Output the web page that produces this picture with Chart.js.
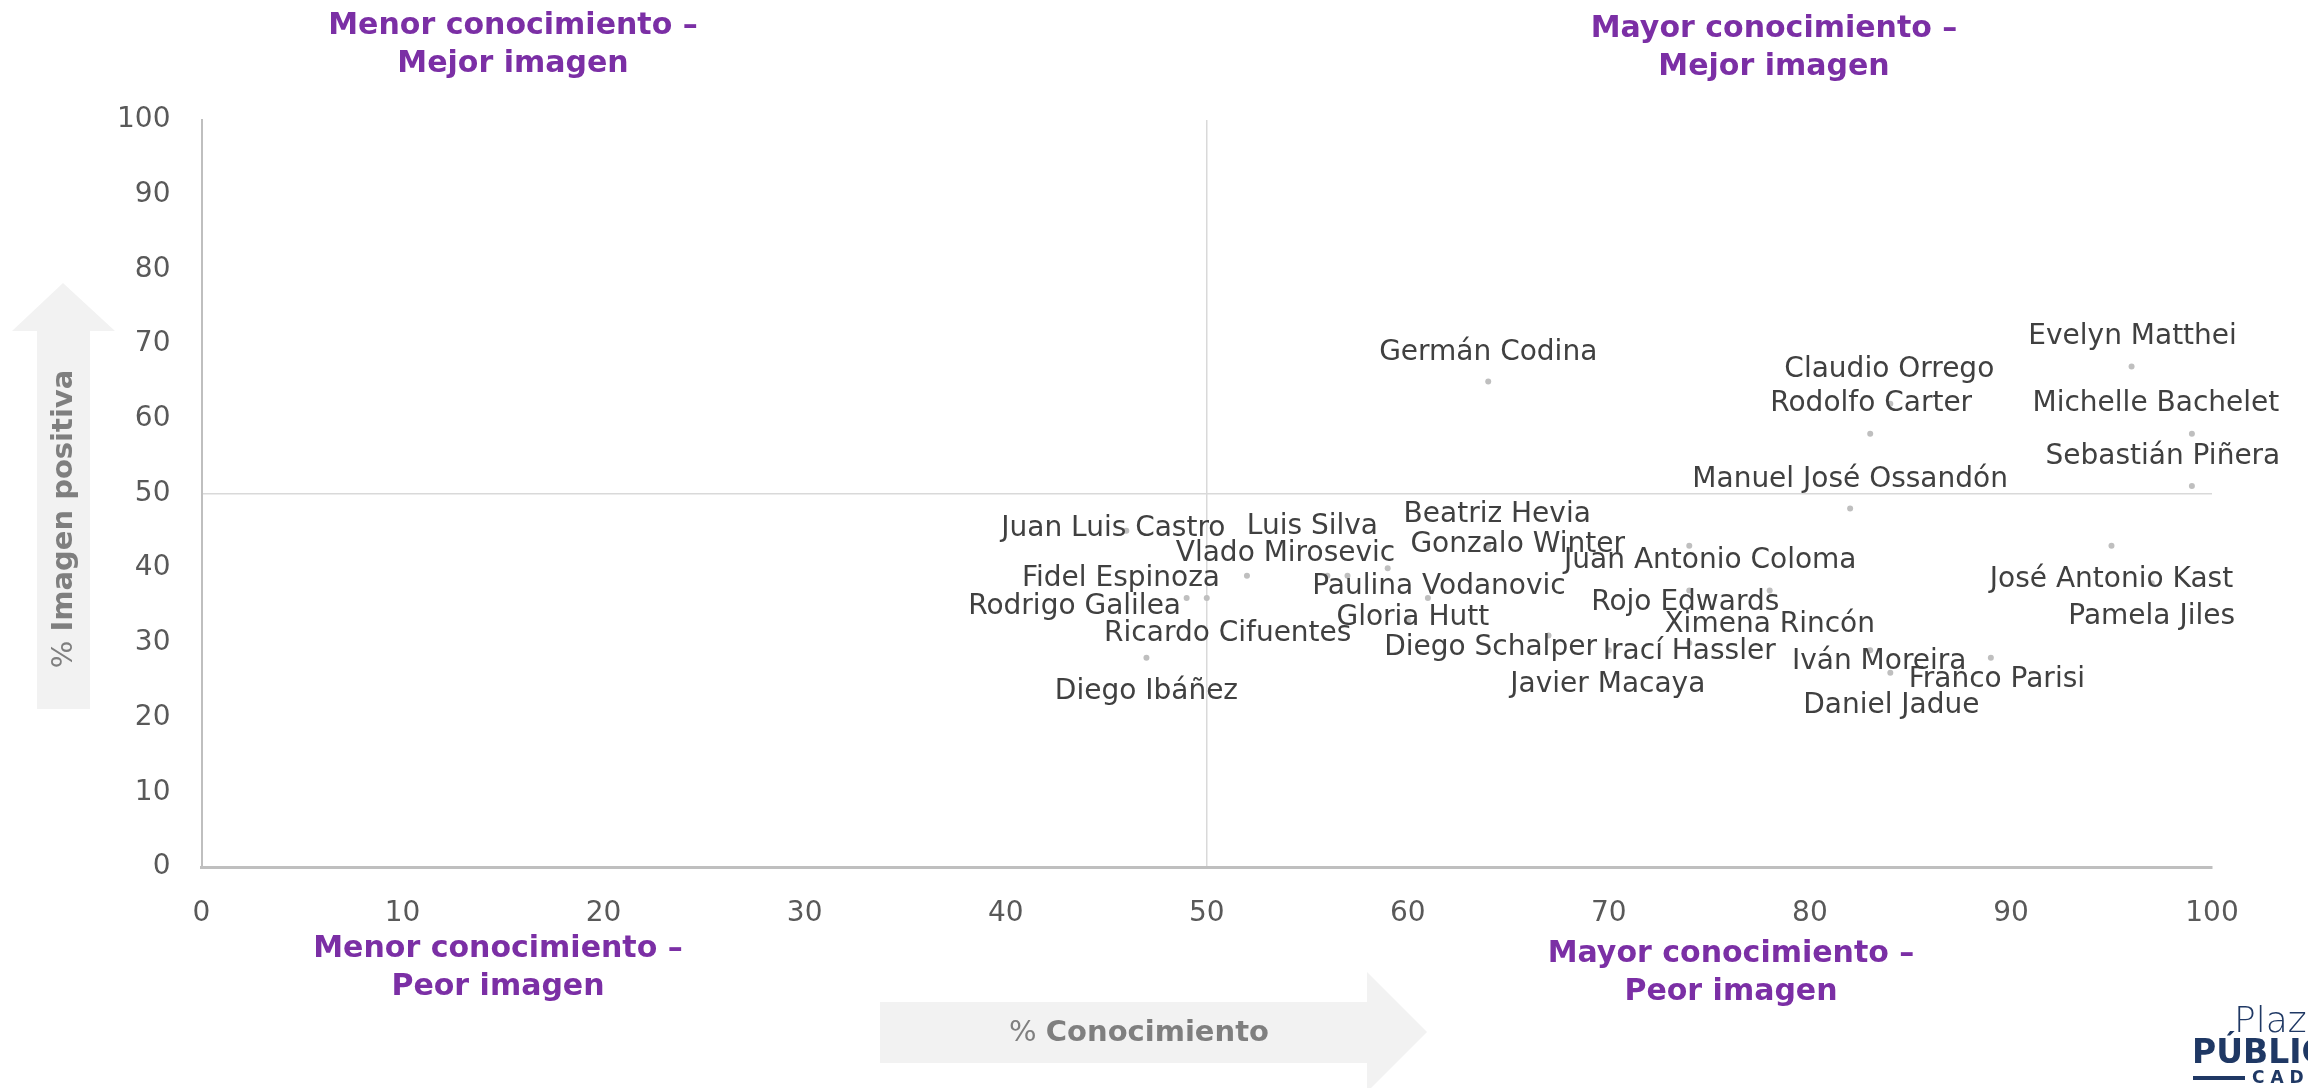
<!DOCTYPE html>
<html>
<head>
<meta charset="utf-8">
<script src="https://cdn.jsdelivr.net/npm/chart.js@4.4.1/dist/chart.umd.min.js"></script>
<style>
  html, body { margin: 0; padding: 0; background: #fff; }
  #wrap { width: 2308px; height: 1088px; position: relative; }
</style>
</head>
<body>
<div id="wrap"><canvas id="myChart"></canvas></div>
<script>
const ctx = document.getElementById('myChart').getContext('2d')

// people, % conocimiento (x) and % imagen positiva (y)
const names = [
    'Germán Codina', 'Evelyn Matthei', 'Claudio Orrego', 'Rodolfo Carter',
    'Michelle Bachelet', 'Sebastián Piñera', 'Manuel José Ossandón',
    'Beatriz Hevia', 'Gonzalo Winter', 'Juan Luis Castro', 'Luis Silva',
    'Vlado Mirosevic', 'Fidel Espinoza', 'Rodrigo Galilea', 'Ricardo Cifuentes',
    'Diego Ibáñez', 'Paulina Vodanovic', 'Gloria Hutt', 'Diego Schalper',
    'Javier Macaya', 'Irací Hassler', 'Rojo Edwards', 'Ximena Rincón',
    'Juan Antonio Coloma', 'Iván Moreira', 'Franco Parisi', 'Daniel Jadue',
    'José Antonio Kast', 'Pamela Jiles',
]
const conocimiento = [64, 96, 84, 83, 99, 99, 82, 64, 59, 46, 56, 57, 52, 49, 50, 47, 61, 60, 67, 70, 74, 74, 78, 74, 83, 89, 84, 95, 97]
const imagenPositiva = [65, 67, 62, 58, 58, 51, 48, 43, 40, 45, 39, 39, 39, 36, 36, 28, 36, 33, 31, 29, 30, 37, 37, 43, 29, 28, 26, 43, 38]

const tickValues = [0, 10, 20, 30, 40, 50, 60, 70, 80, 90, 100]

const quadrantTitles = [
    ['Menor conocimiento –', 'Mejor imagen'],
    ['Mayor conocimiento –', 'Mejor imagen'],
    ['Menor conocimiento –', 'Peor imagen'],
    ['Mayor conocimiento –', 'Peor imagen'],
]

// where each name sits relative to its dot (px)
const labelOffsets = [
    [0, -29], [1, -30], [-1, -34], [1, -30],
    [-36, -30], [-29, -29], [0, -29],
    [9, -31], [130, -23], [-13, -2], [-15, -49],
    [-62, -22], [-126, 3], [-112, 9], [21, 36],
    [0, 34], [11, -11], [5, -3], [-58, 12],
    [-1, 34], [0, 9], [-4, 12], [0, 34],
    [21, 15], [9, 11], [6, 22], [1, 33],
    [0, 34], [0, 34],
]
// centre of each quadrant title block (px)
const titlePos = [[513, 26], [1774, 29], [498, 949], [1731, 954]]

const FONT = '"DejaVu Sans", "Open Sans", sans-serif'
const purple = '#7b2fa5'
const arrowGrey = '#f2f2f2'

const pointLabels = {
    id: 'pointLabels',
    afterDatasetsDraw(chart) {
        const c = chart.ctx
        const meta = chart.getDatasetMeta(0)
        c.save()
        c.font = '28px ' + FONT
        c.fillStyle = '#404040'
        c.textAlign = 'center'
        c.textBaseline = 'middle'
        meta.data.forEach((pt, i) => {
            const off = labelOffsets[i]
            c.fillText(names[i], pt.x + off[0], pt.y + off[1])
        })
        c.restore()
    }
}

function mixedText(c, parts, cx, cy) {
    // parts: [[text, font], ...] drawn centred as one line
    let total = 0
    parts.forEach(p => { c.font = p[1]; total += c.measureText(p[0]).width })
    let x = cx - total / 2
    parts.forEach(p => {
        c.font = p[1]
        c.fillText(p[0], x, cy)
        x += c.measureText(p[0]).width
    })
}

const decorations = {
    id: 'decorations',
    beforeDraw(chart) {
        const c = chart.ctx
        c.save()
        c.fillStyle = arrowGrey
        // vertical arrow
        c.beginPath()
        c.moveTo(63, 283)
        c.lineTo(115, 331)
        c.lineTo(90, 331)
        c.lineTo(90, 709)
        c.lineTo(37, 709)
        c.lineTo(37, 331)
        c.lineTo(12, 331)
        c.closePath()
        c.fill()
        // horizontal arrow
        c.beginPath()
        c.moveTo(880, 1002)
        c.lineTo(1367, 1002)
        c.lineTo(1367, 972)
        c.lineTo(1427, 1032)
        c.lineTo(1367, 1092)
        c.lineTo(1367, 1063)
        c.lineTo(880, 1063)
        c.closePath()
        c.fill()
        c.restore()
    },
    afterDraw(chart) {
        const c = chart.ctx
        c.save()
        c.textAlign = 'left'
        c.textBaseline = 'middle'
        c.fillStyle = '#7f7f7f'
        // axis titles
        mixedText(c, [['% ', '29px ' + FONT], ['Conocimiento', 'bold 29px ' + FONT]], 1139, 1033)
        c.translate(64, 519)
        c.rotate(-Math.PI / 2)
        mixedText(c, [['% ', '29px ' + FONT], ['Imagen positiva', 'bold 29px ' + FONT]], 0, 0)
        c.restore()

        // quadrant titles
        c.save()
        c.fillStyle = purple
        c.textAlign = 'center'
        c.textBaseline = 'middle'
        c.font = 'bold 30px ' + FONT
        quadrantTitles.forEach((t, i) => {
            c.fillText(t[0], titlePos[i][0], titlePos[i][1])
            c.fillText(t[1], titlePos[i][0], titlePos[i][1] + 38)
        })
        c.restore()

        // logo, cut by the right edge
        c.save()
        c.fillStyle = '#1f3864'
        c.textAlign = 'left'
        c.textBaseline = 'alphabetic'
        c.font = '300 36px ' + FONT
        c.fillText('Plaza', 2234, 1032)
        c.font = 'bold 33px ' + FONT
        c.fillText('PÚBLICA', 2192, 1063)
        c.font = 'bold 17px ' + FONT
        c.fillText('C A D E M', 2252, 1083)
        c.fillRect(2193, 1076, 52, 4)
        c.restore()
    }
}

const data = {
    datasets: [
        {
            data: conocimiento.map((x, i) => ({ x: x, y: imagenPositiva[i] })),
            backgroundColor: '#bfbfbf',
            borderWidth: 0,
            pointRadius: 3,
            showLine: false,
        },
    ],
}

const quadrantGrid = (context) => context.tick && context.tick.value === 50 ? '#d9d9d9' : 'rgba(0,0,0,0)'

const config = {
    type: 'scatter',
    data: data,
    options: {
        responsive: true,
        maintainAspectRatio: false,
        devicePixelRatio: 1,
        animation: false,
        layout: { padding: { top: 120, right: 96, bottom: 0, left: 0 } },
        plugins: {
            legend: { display: false },
            tooltip: { enabled: false },
        },
        scales: {
            x: {
                type: 'linear',
                min: 0,
                max: 100,
                afterBuildTicks: (scale) => { scale.ticks = tickValues.map(v => ({ value: v })) },
                afterFit: (scale) => { scale.height = 221 },
                grid: { color: quadrantGrid, lineWidth: 1.5, drawTicks: false, tickLength: 0 },
                border: { color: '#bfbfbf', width: 3 },
                ticks: {
                    padding: 30,
                    color: '#595959',
                    font: { family: FONT, size: 28 },
                    maxRotation: 0,
                },
            },
            y: {
                type: 'linear',
                min: 0,
                max: 100,
                afterBuildTicks: (scale) => { scale.ticks = tickValues.map(v => ({ value: v })) },
                afterFit: (scale) => { scale.width = 201.5 },
                grid: { color: quadrantGrid, lineWidth: 1.5, drawTicks: false, tickLength: 0 },
                border: { color: '#bfbfbf', width: 2 },
                ticks: {
                    padding: 31,
                    color: '#595959',
                    font: { family: FONT, size: 28 },
                },
            },
        },
    },
    plugins: [decorations, pointLabels],
}

const myChart = new Chart(ctx, config)
</script>
</body>
</html>
